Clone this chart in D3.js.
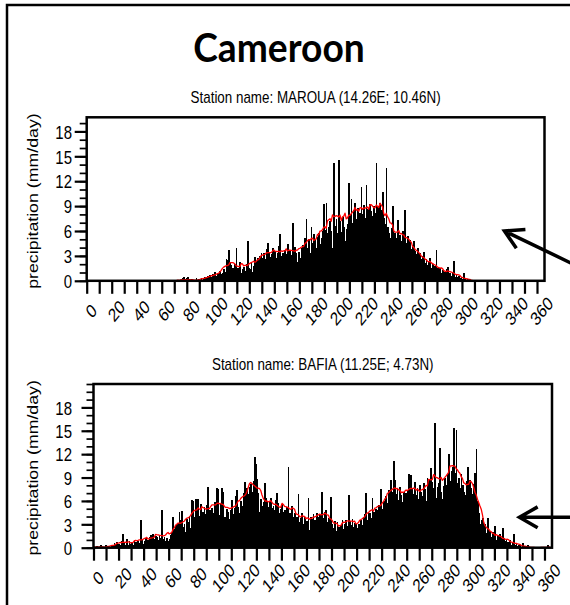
<!DOCTYPE html>
<html>
<head>
<meta charset="utf-8">
<script src="https://cdn.jsdelivr.net/npm/d3@7"></script>
<style>
  html, body { margin: 0; padding: 0; background: #fff; }
  svg { display: block; }
  .axis text { font-family: "Liberation Sans", Arial, sans-serif; font-size: 15px; fill: #000; }
</style>
</head>
<body>
<svg id="fig" width="570" height="605"></svg>
<script>
// Daily precipitation (mm/day), day of year 1..365
const marouaRain = [
  0,0,0,0,0,0,0,0,0,0,
  0,0,0,0,0,0,0,0,0,0,
  0,0,0,0,0,0,0,0,0,0,
  0,0,0,0,0,0,0,0,0,0,
  0,0,0,0,0,0,0,0,0,0,
  0,0,0,0,0,0,0,0,0,0,
  0,0,0,0,0,0,0,0,0,0,
  0,0,0,0,0,0,0.3,0.4,0,0.3,
  0.4,0,0,0.2,0,0,0,0.3,0,0.2,
  0,0.3,0,0.2,0.5,0.4,0.6,0.2,0.7,0.5,
  0.8,0.4,1.1,0.6,0.9,0.7,1.2,0.8,1.0,1.4,
  1.1,2.6,2.5,3.7,2.2,1.9,1.6,1.2,2.0,3.9,
  1.5,0.9,2.3,1.0,1.4,1.7,1.2,2.0,4.8,1.6,
  1.4,2.2,1.1,1.8,2.9,2.4,2.7,2.0,3.0,3.4,
  2.8,3.3,2.6,3.8,4.6,3.5,2.9,3.2,4.0,3.1,
  3.6,2.8,3.3,4.2,5.6,3.0,3.4,2.5,3.7,3.2,
  4.4,2.9,3.6,3.1,7.0,2.7,4.1,3.3,2.3,3.5,
  2.8,3.9,4.3,3.6,5.1,7.5,4.0,5.0,3.4,6.5,
  4.5,5.6,4.9,4.0,5.3,5.8,4.4,5.1,6.0,9.3,
  6.1,9.4,5.8,6.5,7.2,6.0,3.9,14.2,6.6,7.4,
  5.8,14.6,7.2,5.9,7.7,6.5,4.8,6.3,6.9,11.8,
  8.1,9.9,7.0,8.5,9.4,7.4,8.8,6.9,8.2,11.3,
  8.0,9.1,7.6,11.5,8.7,7.1,9.3,8.4,7.8,9.0,
  8.2,14.2,9.0,5.9,9.4,8.5,10.7,7.6,6.8,13.6,
  6.5,5.8,5.2,6.4,9.0,4.9,5.7,5.2,7.3,4.6,
  5.5,4.8,6.0,5.1,8.5,4.6,5.4,4.2,4.9,3.8,
  4.3,4.8,3.6,3.2,3.9,2.9,3.4,2.6,3.0,3.5,
  2.2,2.6,1.9,2.3,2.8,1.6,2.0,1.4,1.8,3.7,
  1.5,1.2,1.6,1.0,1.3,0.9,1.1,1.4,1.7,0.8,
  0.9,0.6,1.0,2.4,0.5,0.7,0.4,0.6,0.3,0.5,
  0.2,1.0,0.3,0.1,0.2,0,0.1,0,0,0,
  0,0,0,0,0,0,0,0,0,0,
  0,0,0,0,0,0,0,0,0,0,
  0,0,0,0,0,0,0,0,0,0,
  0,0,0,0,0,0,0,0,0,0,
  0,0,0,0,0,0,0,0,0,0,
  0,0,0,0,0
];

const bafiaRain = [
  0.1,0,0.2,0,0,0.3,0,0.1,0,0.3,
  0,0.1,0,0,0.2,0.4,0.6,0.3,0.7,0.5,
  0.5,0.3,0.8,1.7,0.6,0.4,1.1,0.3,0.9,0.5,
  0.6,0.4,1.0,0.7,0.3,0.9,0.6,3.5,1.0,0.5,
  0.8,1.2,0.6,1.0,1.4,1.6,1.3,1.7,1.1,1.5,
  1.4,1.0,1.6,1.2,4.9,1.1,1.4,0.8,1.3,0.9,
  1.1,1.6,2.0,3.9,2.4,2.9,1.8,3.2,4.6,3.5,
  4.7,2.6,3.1,2.0,3.7,3.3,4.1,2.5,6.1,6.0,
  3.9,6.2,4.4,6.3,4.1,5.6,3.8,4.6,5.2,4.3,
  5.5,7.8,4.9,3.6,5.1,4.4,5.8,3.9,7.6,7.5,
  4.2,5.6,7.7,7.2,4.0,3.9,5.0,4.6,3.7,4.8,
  6.1,4.3,5.1,6.6,7.4,5.2,4.5,6.0,5.4,7.0,
  8.4,6.3,7.6,6.9,7.8,8.2,7.1,8.6,11.6,10.7,
  8.8,7.0,4.6,6.2,5.4,5.9,8.3,6.4,5.8,5.2,
  6.0,6.4,5.1,5.3,4.8,6.1,7.0,5.7,4.4,5.0,
  5.6,4.6,4.9,3.8,5.2,10.3,4.5,4.2,5.3,3.9,
  4.4,3.6,4.0,6.9,3.3,3.8,4.5,3.1,3.9,2.6,
  3.4,6.4,2.3,4.0,3.7,4.3,3.5,3.0,4.4,3.9,
  4.3,3.5,7.2,3.8,4.6,4.9,3.3,3.8,3.1,6.5,
  3.0,2.5,3.4,2.1,3.3,2.7,1.5,2.9,3.6,2.4,
  3.1,3.5,2.8,6.8,3.4,2.9,3.7,2.6,3.2,3.0,
  2.5,3.1,2.7,3.5,2.9,3.9,4.3,7.0,3.6,4.4,
  4.5,3.8,6.4,4.6,4.2,5.0,4.8,5.5,5.0,7.5,
  5.0,6.0,4.8,6.6,5.7,7.4,6.5,8.7,7.1,11.1,
  8.7,6.9,7.5,6.1,7.8,6.7,5.8,7.2,6.6,7.0,
  7.4,9.4,6.5,9.3,7.7,6.9,8.4,6.8,7.6,6.2,
  8.0,7.1,6.6,8.3,7.5,6.0,9.0,8.8,7.9,10.2,
  8.4,7.6,16.0,6.4,7.8,8.3,12.8,7.1,6.3,7.9,
  8.9,8.0,9.5,12.0,8.6,9.8,10.4,15.4,9.6,15.1,
  8.3,9.0,7.6,9.4,8.1,7.2,6.8,8.6,10.4,7.4,
  8.7,7.6,6.9,8.2,9.6,12.7,6.0,4.4,3.1,3.6,
  3.8,2.4,3.1,1.9,3.8,1.6,2.2,1.4,2.0,1.2,
  2.8,1.0,1.5,0.9,1.7,1.2,2.5,1.3,0.8,1.1,
  0.7,0.5,1.0,0.4,0.6,1.8,0.3,0.5,0.2,0.4,
  0.3,0.1,0.6,0.2,0,0.1,0.3,0,0,0.1,
  0,0,0,0,0,0,0,0,0,0,
  0,0.1,0.3,0,0
];

const stationNames = ["MAROUA (14.26E; 10.46N)", "BAFIA (11.25E; 4.73N)"];
const yMax = [19.7, 21];
const xTicks = d3.range(0, 361, 10);          // a tick every 10 days
const yMajorTicks = [0, 3, 6, 9, 12, 15, 18];
const titleText = "Cameroon";
const yLabelText = "precipitation (mm/day)";
// arrow tips in each panel's data units: [day, mm/day]
const arrowTips = [[334, 6.0], [340, 3.9]];

const TEXT_STRETCH = 1.25;   // vertical stretch applied to all figure text
const svg = d3.select("#fig");

// outer border of the figure
svg.append("rect")
  .attr("x", 7).attr("y", 5).attr("width", 620).attr("height", 640)
  .attr("fill", "none").attr("stroke", "#000").attr("stroke-width", 2.5);

svg.append("text")
  .attr("text-anchor", "middle")
  .attr("transform", "translate(279,62) scale(0.93,1)")
  .style("font-family", "Lato, 'Open Sans', sans-serif")
  .style("font-weight", 700)
  .style("font-size", "40px")
  .text(titleText);

const panels = [
  { data: marouaRain, name: stationNames[0], ymax: yMax[0], left: 86.7, right: 544.5, top: 117.3, bottom: 280.8, arrow: arrowTips[0], arrowTail: [575, 265] },
  { data: bafiaRain,  name: stationNames[1], ymax: yMax[1], left: 93.5, right: 552,   top: 384,   bottom: 547.7, arrow: arrowTips[1], arrowTail: [575, null] }
];

// centred running mean over a window of 2*half+1 days
function runningMean(vals, half) {
  return vals.map((_, i) => d3.mean(vals.slice(Math.max(0, i - half), Math.min(vals.length, i + half + 1))));
}

panels.forEach(p => {
  const x = d3.scaleLinear().domain([0, 366]).range([p.left, p.right]);
  const y = d3.scaleLinear().domain([0, p.ymax]).range([p.bottom, p.top]);
  const g = svg.append("g");
  const series = p.data.map((v, i) => ({ day: i + 1, v }));

  // daily bars
  g.append("g")
    .attr("shape-rendering", "crispEdges")
    .selectAll("rect")
    .data(series.filter(d => d.v > 0))
    .join("rect")
    .attr("x", d => x(d.day - 1))
    .attr("width", d => x(d.day) - x(d.day - 1) + 0.5)
    .attr("y", d => y(d.v))
    .attr("height", d => y(0) - y(d.v))
    .attr("fill", "#000");

  // smoothed curve
  const smooth = runningMean(p.data, 5).map((m, i) => ({ day: i + 1, m }));
  g.append("path")
    .datum(smooth)
    .attr("fill", "none")
    .attr("stroke", "#ff0000")
    .attr("stroke-width", 1.3)
    .attr("stroke-linejoin", "round")
    .attr("d", d3.line().x(d => x(d.day - 0.5)).y(d => y(d.m)));

  // plot frame
  g.append("rect")
    .attr("x", p.left).attr("y", p.top)
    .attr("width", p.right - p.left).attr("height", p.bottom - p.top)
    .attr("fill", "none").attr("stroke", "#000").attr("stroke-width", 2.5);

  // y axis: minor ticks every 1, labelled major ticks every 3
  const yMinor = g.append("g").attr("class", "axis")
    .attr("transform", `translate(${p.left},0)`)
    .call(d3.axisLeft(y).tickValues(d3.range(0, Math.floor(p.ymax) + 1, 1)).tickSize(7).tickFormat(""));
  yMinor.select(".domain").remove();
  yMinor.selectAll("line").attr("stroke-width", 1.7);

  const yMajor = g.append("g").attr("class", "axis")
    .attr("transform", `translate(${p.left},0)`)
    .call(d3.axisLeft(y).tickValues(yMajorTicks).tickSize(12).tickPadding(3));
  yMajor.select(".domain").remove();
  yMajor.selectAll("line").attr("stroke-width", 2.2);
  yMajor.selectAll("text")
    .attr("x", 0).attr("dy", "0.36em")
    .attr("transform", `translate(${72 - p.left},0) scale(1,${TEXT_STRETCH})`);

  // x axis: ticks every 10 days, labels every 20
  const xAx = g.append("g").attr("class", "axis")
    .attr("transform", `translate(0,${p.bottom})`)
    .call(d3.axisBottom(x).tickValues(xTicks).tickSize(13).tickFormat(d => d % 20 === 0 ? d : ""));
  xAx.select(".domain").remove();
  xAx.selectAll("line").attr("stroke-width", 2.2);
  xAx.selectAll("text")
    .attr("x", 0).attr("y", 0).attr("dy", "0.36em")
    .attr("text-anchor", "middle")
    .attr("transform", `translate(4,30) scale(1,${TEXT_STRETCH}) rotate(-45)`);

  // station title
  svg.append("text")
    .attr("text-anchor", "middle")
    .attr("transform", `translate(${(p.left + p.right) / 2},${p.top - 14}) scale(1,${TEXT_STRETCH})`)
    .style("font-family", "'Liberation Sans', Arial, sans-serif")
    .style("font-size", "13.4px")
    .text("Station name: " + p.name);

  // y axis title
  svg.append("text")
    .attr("text-anchor", "middle")
    .attr("transform", `translate(37.5,${(p.top + p.bottom) / 2 + 2}) scale(1,${TEXT_STRETCH}) rotate(-90)`)
    .style("font-family", "'Liberation Sans', Arial, sans-serif")
    .style("font-size", "14.2px")
    .text(yLabelText);

  // pointer arrow
  const tip = [x(p.arrow[0]), y(p.arrow[1])];
  const tail = [p.arrowTail[0], p.arrowTail[1] === null ? tip[1] : p.arrowTail[1]];
  const ang = Math.atan2(tail[1] - tip[1], tail[0] - tip[0]);
  const headLen = 21, spread = 0.52;
  const arm = s => [tip[0] + headLen * Math.cos(ang + s), tip[1] + headLen * Math.sin(ang + s)];
  svg.append("path")
    .attr("d", d3.line()([tail, tip]) + d3.line()([arm(spread), tip, arm(-spread)]))
    .attr("fill", "none").attr("stroke", "#000").attr("stroke-width", 3.5)
    .attr("stroke-linecap", "butt").attr("stroke-linejoin", "miter");
});
</script>
</body>
</html>
